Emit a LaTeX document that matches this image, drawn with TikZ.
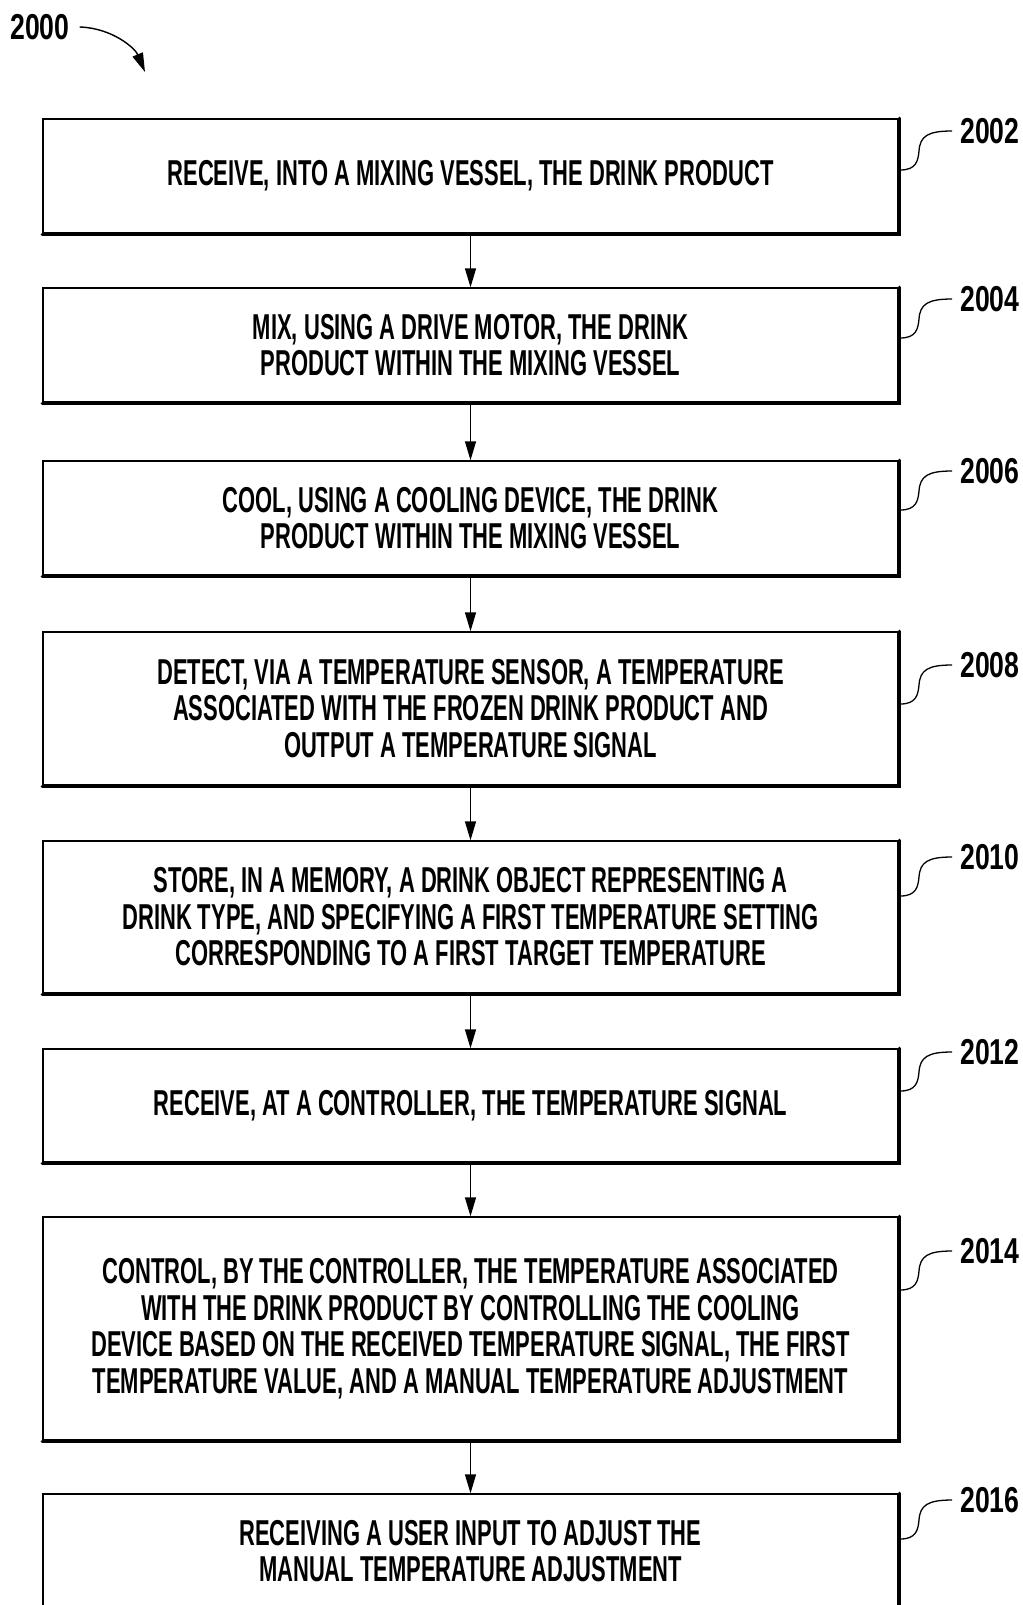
\documentclass[tikz,border=0pt]{standalone}
\usepackage{fontspec}
\setmainfont{Liberation Sans}[FakeStretch=0.61]
\newfontfamily\numfont{Liberation Sans}[FakeStretch=0.74]
\usetikzlibrary{arrows.meta}
\begin{document}
\begin{tikzpicture}[x=1pt,y=-1pt,
  every node/.style={font=\bfseries\fontsize{36}{36.5}\selectfont},
  box/.style={draw, line width=1.4pt, minimum width=855pt, align=center, inner sep=0pt},
  lab/.style={anchor=west, inner sep=0pt, font=\numfont\bfseries\fontsize{36}{36.5}\selectfont},
  flow/.style={line width=1.4pt, -{Triangle[length=19pt,width=11pt]}},
  squig/.style={line width=1.3pt}]
\useasboundingbox (0,0) rectangle (1022,1605);
% title
\node[lab] (t) at (10,27) {2000};
\coordinate (tip) at (145,72);
\draw[flow] ([xshift=10pt]t.east) .. controls (112,28) and (135,48) .. (tip);
% boxes
\node[box, minimum height=114pt] (b1) at (470.5,176) {RECEIVE, INTO A MIXING VESSEL, THE DRINK PRODUCT};
\node[box, minimum height=114pt] (b2) at (470.5,345) {MIX, USING A DRIVE MOTOR, THE DRINK\\PRODUCT WITHIN THE MIXING VESSEL};
\node[box, minimum height=114pt] (b3) at (470.5,518) {COOL, USING A COOLING DEVICE, THE DRINK\\PRODUCT WITHIN THE MIXING VESSEL};
\node[box, minimum height=153pt] (b4) at (470.5,708.5) {DETECT, VIA A TEMPERATURE SENSOR, A TEMPERATURE\\ASSOCIATED WITH THE FROZEN DRINK PRODUCT AND\\OUTPUT A TEMPERATURE SIGNAL};
\node[box, minimum height=152pt] (b5) at (470.5,917) {STORE, IN A MEMORY, A DRINK OBJECT REPRESENTING A\\DRINK TYPE, AND SPECIFYING A FIRST TEMPERATURE SETTING\\CORRESPONDING TO A FIRST TARGET TEMPERATURE};
\node[box, minimum height=113pt] (b6) at (470.5,1105.5) {RECEIVE, AT A CONTROLLER, THE TEMPERATURE SIGNAL};
\node[box, minimum height=223pt] (b7) at (470.5,1328.5) {CONTROL, BY THE CONTROLLER, THE TEMPERATURE ASSOCIATED\\WITH THE DRINK PRODUCT BY CONTROLLING THE COOLING\\DEVICE BASED ON THE RECEIVED TEMPERATURE SIGNAL, THE FIRST\\TEMPERATURE VALUE, AND A MANUAL TEMPERATURE ADJUSTMENT};
\node[box, minimum height=114pt] (b8) at (470.5,1551) {RECEIVING A USER INPUT TO ADJUST THE\\MANUAL TEMPERATURE ADJUSTMENT};
% heavy right/bottom edges
\foreach \b in {b1,b2,b3,b4,b5,b6,b7,b8}{
  \draw[line width=3.4pt, line cap=round] ([xshift=0.8pt]\b.north east) -- ([xshift=0.8pt,yshift=-0.8pt]\b.south east) -- ([yshift=-0.8pt]\b.south west);
}
% connectors
\foreach \a/\c in {b1/b2,b2/b3,b3/b4,b4/b5,b5/b6,b6/b7,b7/b8}{
  \draw[flow] ([yshift=-2pt]\a.south) -- (\c.north);
}
% labels
\foreach \b/\n/\y in {b1/2002/131, b2/2004/299, b3/2006/471, b4/2008/665, b5/2010/857, b6/2012/1052, b7/2014/1251, b8/2016/1500}{
  \node[lab] (l\n) at (960,\y) {\n};
  \coordinate (s\n) at ([xshift=1.5pt]\b.east |- 0,\y+39);
  \draw[squig] (s\n) .. controls ++(16,0) and ++(-1,10) .. ([xshift=-41pt,yshift=-20pt]l\n.west)
     .. controls ++(1,-15) and ++(-24,0) .. ([xshift=-8pt]l\n.west);
}
\end{tikzpicture}
\end{document}
